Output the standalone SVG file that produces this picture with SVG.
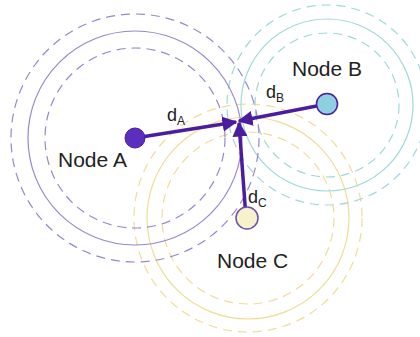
<svg xmlns="http://www.w3.org/2000/svg" width="420" height="337" viewBox="0 0 420 337">
<style>
.ra{fill:none;stroke:#9588cf;stroke-width:1.2}
.rb{fill:none;stroke:#a0d8da;stroke-width:1.2}
.rc{fill:none;stroke:#f2dc98;stroke-width:1.2}
.d{stroke-dasharray:9 6}
.lbl{font-family:"Liberation Sans",Arial,sans-serif;font-size:21px;fill:#222}
.dl{font-family:"Liberation Sans",Arial,sans-serif;font-size:18px;fill:#222}
.sub{font-size:12px}
.arr{stroke:#4b1d9e;stroke-width:3.5;fill:none;marker-end:url(#ah)}
</style>
<defs>
<marker id="ah" viewBox="0 0 10 10" refX="9" refY="5" markerWidth="4.3" markerHeight="4.3" orient="auto" markerUnits="strokeWidth">
<path d="M0,0 L10,5 L0,10 z" fill="#4b1d9e"/>
</marker>
</defs>
<g id="rangeC">
<circle class="rc d" cx="248" cy="218" r="86"/>
<circle class="rc" cx="248" cy="218" r="101"/>
<circle class="rc d" cx="248" cy="218" r="114"/>
</g>
<g id="rangeB">
<circle class="rb d" cx="327" cy="105" r="72"/>
<circle class="rb" cx="327" cy="105" r="86"/>
<circle class="rb d" cx="327" cy="105" r="100"/>
</g>
<g id="rangeA">
<circle class="ra d" cx="135" cy="138" r="90"/>
<circle class="ra" cx="135" cy="138" r="107"/>
<circle class="ra d" cx="135" cy="138" r="124"/>
</g>
<g id="connectors">
<line class="arr" x1="135" y1="138" x2="236" y2="122"/>
<line class="arr" x1="327" y1="104" x2="239" y2="121"/>
<line class="arr" x1="246" y1="218" x2="239" y2="123"/>
</g>
<g id="nodeA">
<circle cx="135" cy="138" r="10" fill="#5a2fc0" stroke="#4b1d9e" stroke-width="1"/>
<text class="lbl" x="58" y="167">Node A</text>
</g>
<g id="nodeB">
<circle cx="327" cy="104" r="10.5" fill="#8ecfe0" stroke="#4b1d9e" stroke-width="1.5"/>
<text class="lbl" x="292" y="76">Node B</text>
</g>
<g id="nodeC">
<circle cx="247" cy="218" r="11" fill="#f8f2cc" stroke="#6a4fb0" stroke-width="1.5"/>
<text class="lbl" x="217" y="268">Node C</text>
</g>
<g id="labels">
<text class="dl" x="167" y="121">d<tspan class="sub" dy="4">A</tspan></text>
<text class="dl" x="266" y="98">d<tspan class="sub" dy="4">B</tspan></text>
<text class="dl" x="248" y="203">d<tspan class="sub" dy="4">C</tspan></text>
</g>
</svg>
